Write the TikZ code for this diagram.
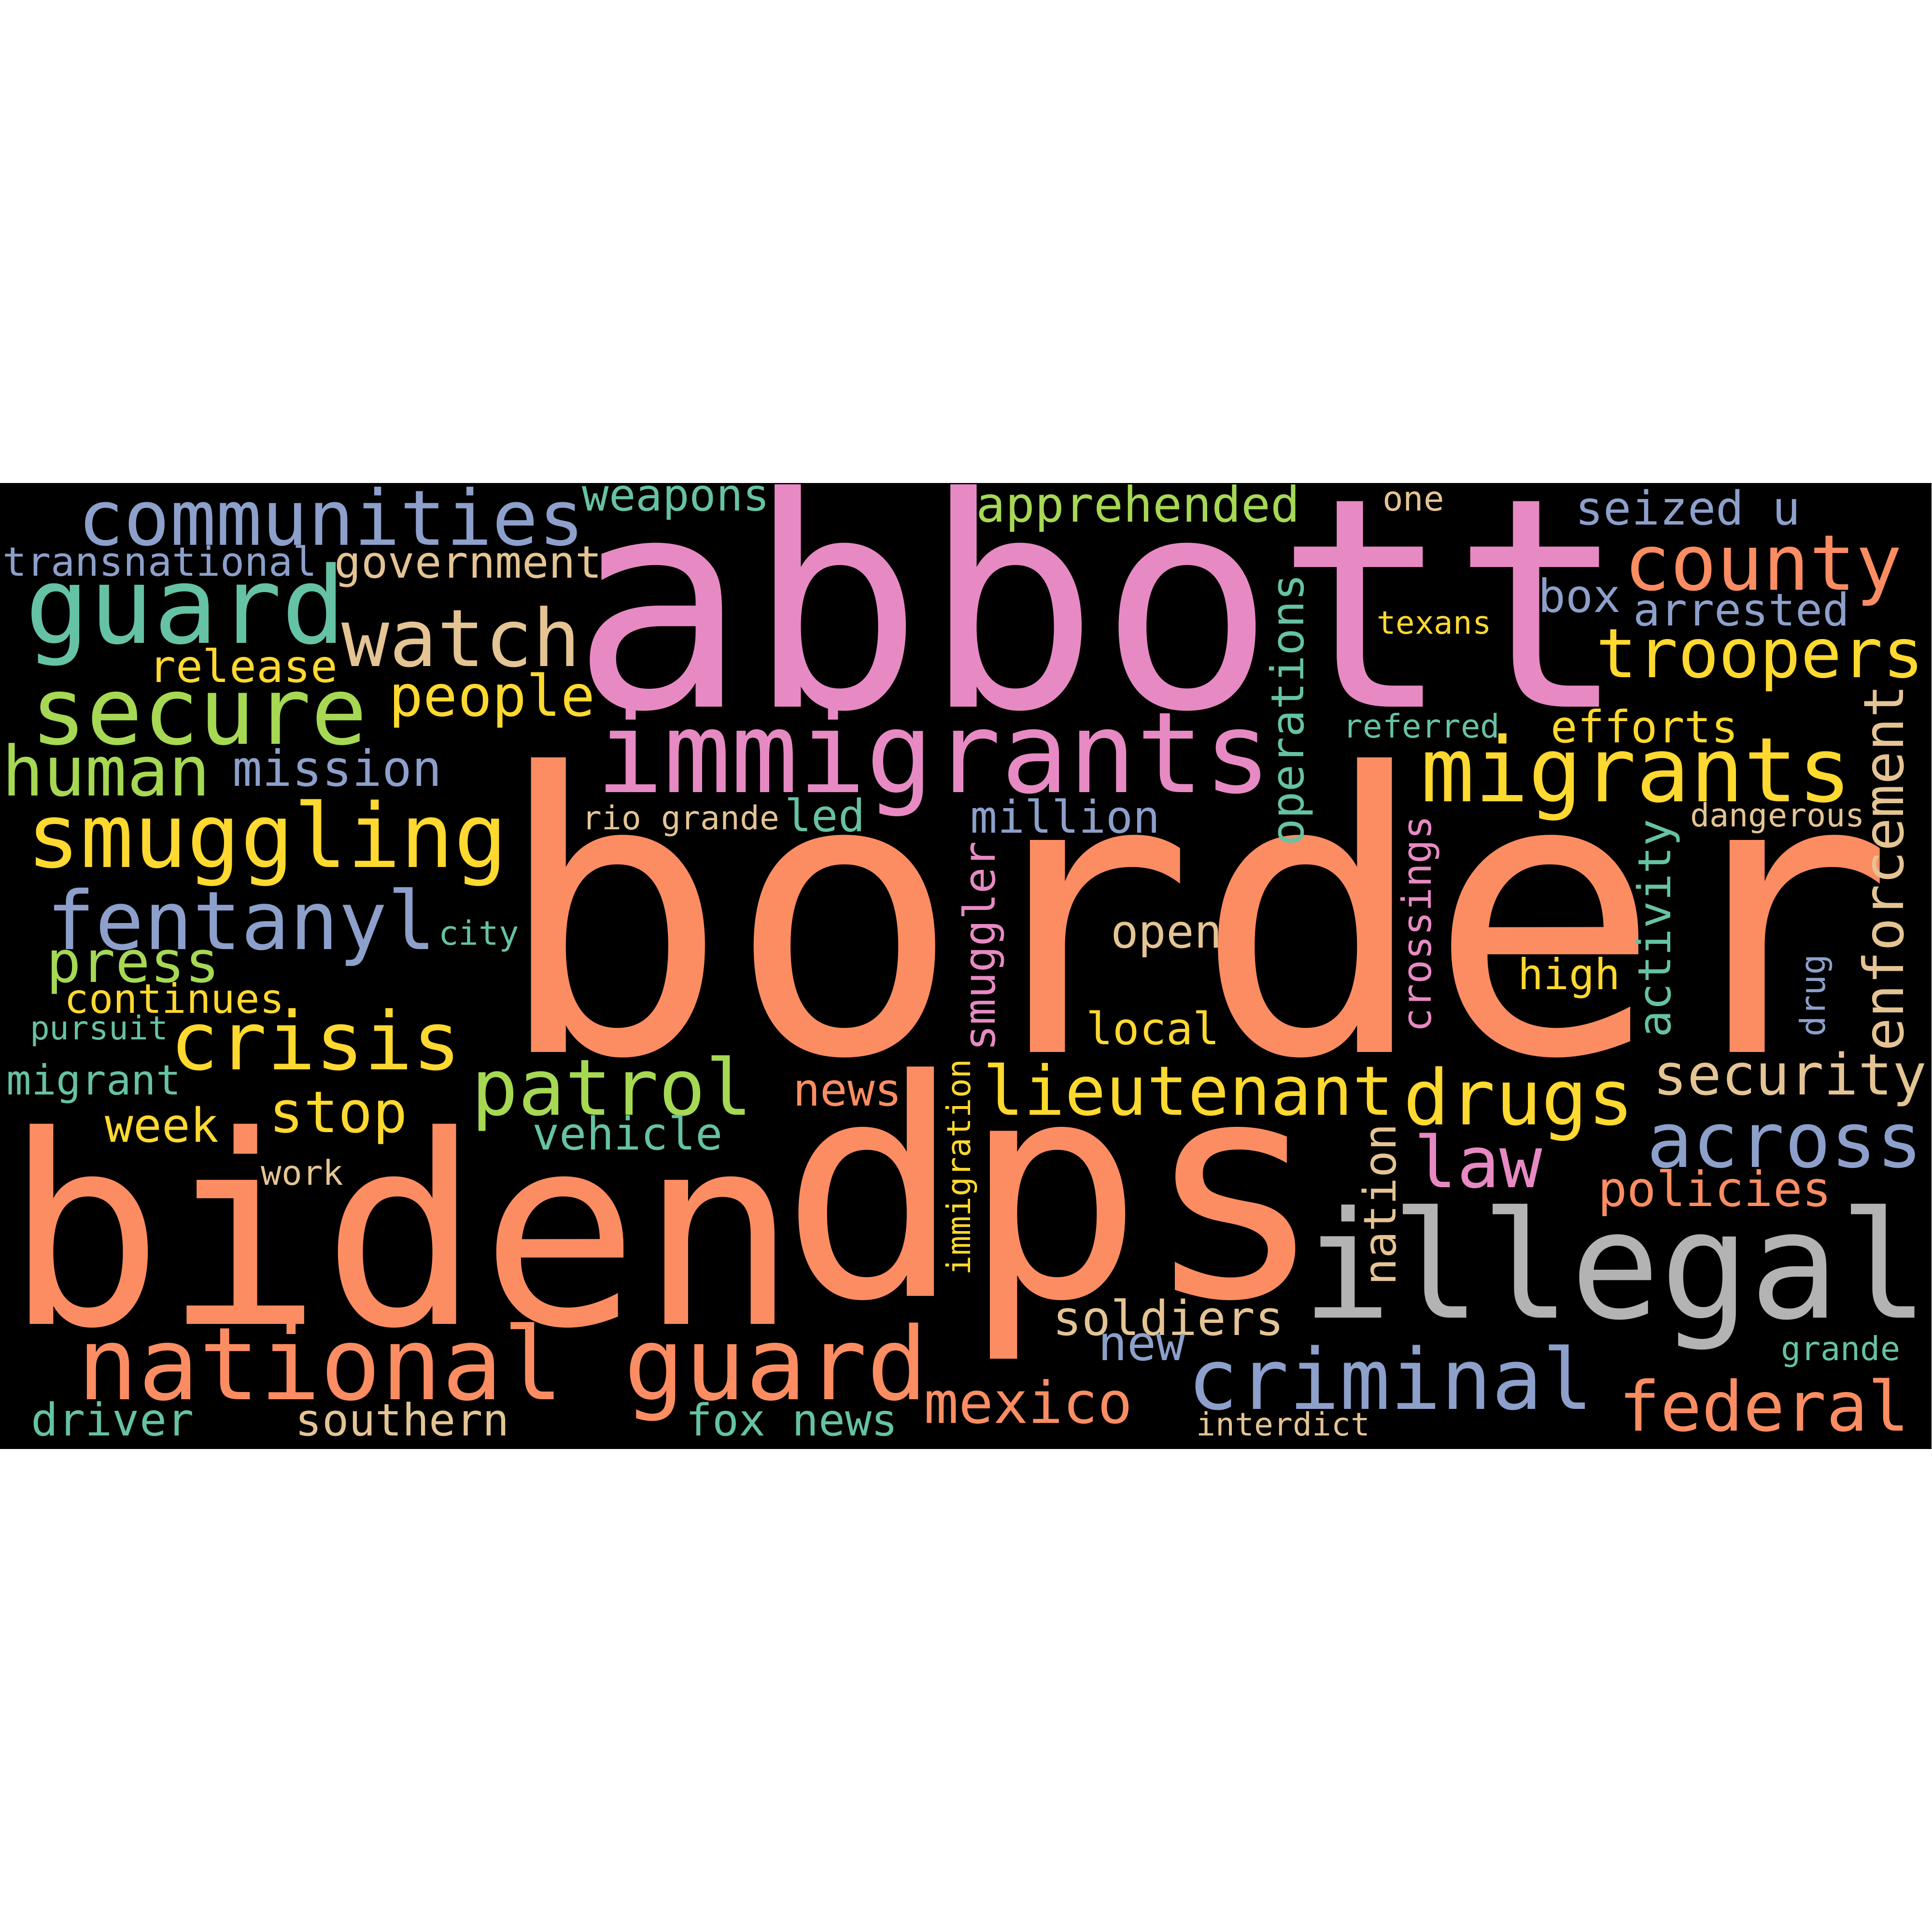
\documentclass[tikz,border=0pt]{standalone}
\usepackage{fontspec}
\usepackage{tikz}
\newfontfamily\wcfont{DejaVu Sans Mono}
\definecolor{s2teal}{HTML}{66C2A5}
\definecolor{s2orange}{HTML}{FC8D62}
\definecolor{s2blue}{HTML}{8DA0CB}
\definecolor{s2pink}{HTML}{E78AC3}
\definecolor{s2green}{HTML}{A6D854}
\definecolor{s2yellow}{HTML}{FFD92F}
\definecolor{s2beige}{HTML}{E5C494}
\definecolor{s2gray}{HTML}{B3B3B3}

\begin{document}
\begin{tikzpicture}
    [ x = 1pt, y = -1pt
    , word/.style =
      { font = \wcfont\fontsize{#1}{#1}\selectfont, inner sep = 0pt, anchor = base }
    , upword/.style =
      { word = #1, rotate = 90 }
    ]
    \fill [white] (0,0) rectangle (1568,1568);
    \useasboundingbox (0,0) rectangle (1568,1568);
    \fill [black] (0,392) rectangle (1568,1176);

    % big words
    \node [word=237.5,s2pink] (abbott) at (892.5,573.7) {abbott};
    \node [word=314.7,s2orange] (border) at (970,854) {border};
    \node [word=213.8,s2orange] (biden) at (326,1074.6) {biden};
    \node [word=245,s2orange] (dps) at (854.9,1052) {dps};
    \node [word=120.8,s2gray] (illegal) at (1311.5,1069.5) {illegal};
    \node [word=91.1,s2pink] (immigrants) at (758,643.1) {immigrants};
    \node [word=81.9,s2orange] (nationalguard) at (408.2,1135.8) {national guard};

    % left part
    \node [word=62.1,s2blue] (communities) at (268.9,442.4) {communities};
    \node [word=32.6,s2blue] (transnational) at (129.8,467.6) {transnational};
    \node [word=36.1,s2beige] (government) at (380.3,468.9) {government};
    \node [word=86.4,s2teal] (guard) at (150.8,521.9) {guard};
    \node [word=64.5,s2beige] (watch) at (374.3,540.9) {watch};
    \node [word=36.4,s2yellow] (release) at (197.5,553.5) {release};
    \node [word=75.7,s2green] (secure) at (161.7,604) {secure};
    \node [word=46.3,s2yellow] (people) at (399.5,581.3) {people};
    \node [word=56.2,s2green] (human) at (86.3,645.7) {human};
    \node [word=40.3,s2blue] (mission) at (273.8,638) {mission};
    \node [word=72,s2yellow] (smuggling) at (217,703.7) {smuggling};
    \node [word=65.7,s2blue] (fentanyl) at (196,770.6) {fentanyl};
    \node [word=27.1,s2teal] (city) at (388.7,766.9) {city};
    \node [word=46.7,s2green] (press) at (108,797) {press};
    \node [word=32.9,s2yellow] (continues) at (141.6,822.2) {continues};
    \node [word=26.6,s2teal] (pursuit) at (80.4,843.9) {pursuit};
    \node [word=65.4,s2yellow] (crisis) at (256.3,868.1) {crisis};
    \node [word=33.6,s2teal] (migrant) at (76.2,888.5) {migrant};
    \node [word=46.6,s2yellow] (stop) at (274.7,919.1) {stop};
    \node [word=38.3,s2yellow] (week) at (131.5,926.7) {week};
    \node [word=27.8,s2beige] (work) at (245.4,961.7) {work};
    \node [word=36.6,s2teal] (driver) at (91.3,1165.2) {driver};
    \node [word=36.1,s2beige] (southern) at (326.7,1165.2) {southern};

    % middle part
    \node [word=36.2,s2teal] (weapons) at (548.8,414.6) {weapons};
    \node [word=39.7,s2green] (apprehended) at (924,423.4) {apprehended};
    \node [word=26.6,s2beige] (riogrande) at (552.7,673.4) {rio grande};
    \node [word=36.1,s2teal] (led) at (669.7,674.7) {led};
    \node [word=36.5,s2blue] (million) at (864.8,676) {million};
    \node [upword=35.4,s2pink] (smuggler) at (807.8,768) {smuggler};
    \node [word=37.6,s2beige] (open) at (946.9,769.4) {open};
    \node [word=36.1,s2yellow] (local) at (936,847.7) {local};
    \node [word=63.1,s2green] (patrol) at (496.9,905) {patrol};
    \node [word=36.8,s2orange] (news) at (688,897.4) {news};
    \node [word=55.4,s2yellow] (lieutenant) at (964.7,905) {lieutenant};
    \node [word=36.7,s2teal] (vehicle) at (509.5,933.1) {vehicle};
    \node [upword=26.5,s2yellow] (immigration) at (787.7,947.2) {immigration};
    \node [word=39,s2beige] (soldiers) at (948.6,1083.6) {soldiers};
    \node [word=39.1,s2blue] (new) at (926.8,1104) {new};
    \node [word=46.9,s2orange] (mexico) at (834.6,1155) {mexico};
    \node [word=35.8,s2teal] (foxnews) at (642.9,1165.2) {fox news};
    \node [word=68.4,s2blue] (criminal) at (1128.8,1143.5) {criminal};
    \node [word=26,s2beige] (interdict) at (1041.7,1165.2) {interdict};

    % right part
    \node [word=27.8,s2beige] (one) at (1147.4,414.6) {one};
    \node [word=37.9,s2blue] (seizedu) at (1370.2,426) {seized u};
    \node [word=62.5,s2orange] (county) at (1431.3,479) {county};
    \node [word=37.1,s2blue] (box) at (1282.2,496.7) {box};
    \node [word=36.5,s2blue] (arrested) at (1413.7,508) {arrested};
    \node [word=25.8,s2yellow] (texans) at (1164.2,514.4) {texans};
    \node [word=55.3,s2yellow] (troopers) at (1428.8,549.7) {troopers};
    \node [upword=36.7,s2teal] (operations) at (1058,576.2) {operations};
    \node [word=26.4,s2teal] (referred) at (1154.1,598.9) {referred};
    \node [word=36.1,s2yellow] (efforts) at (1335,602.7) {efforts};
    \node [word=72.6,s2yellow] (migrants) at (1328.3,650.7) {migrants};
    \node [upword=44.9,s2beige] (enforcement) at (1545.2,704.4) {enforcement};
    \node [word=26.2,s2beige] (dangerous) at (1443,670.9) {dangerous};
    \node [upword=32.5,s2pink] (crossings) at (1161.6,749.8) {crossings};
    \node [upword=36.8,s2teal] (activity) at (1356,753.6) {activity};
    \node [word=34.6,s2yellow] (high) at (1273.9,803) {high};
    \node [upword=27.8,s2blue] (drug) at (1481.6,808) {drug};
    \node [word=62.2,s2yellow] (drugs) at (1232.9,912.7) {drugs};
    \node [word=46.2,s2beige] (security) at (1453.1,888.5) {security};
    \node [word=62,s2blue] (across) at (1448.9,947.1) {across};
    \node [upword=36.4,s2beige] (nation) at (1133.2,977.7) {nation};
    \node [word=57.7,s2pink] (law) at (1200.1,963.7) {law};
    \node [word=39.4,s2orange] (policies) at (1392,979) {policies};
    \node [word=26.8,s2teal] (grande) at (1494.2,1104) {grande};
    \node [word=56,s2orange] (federal) at (1432.2,1161.3) {federal};
\end{tikzpicture}
\end{document}
